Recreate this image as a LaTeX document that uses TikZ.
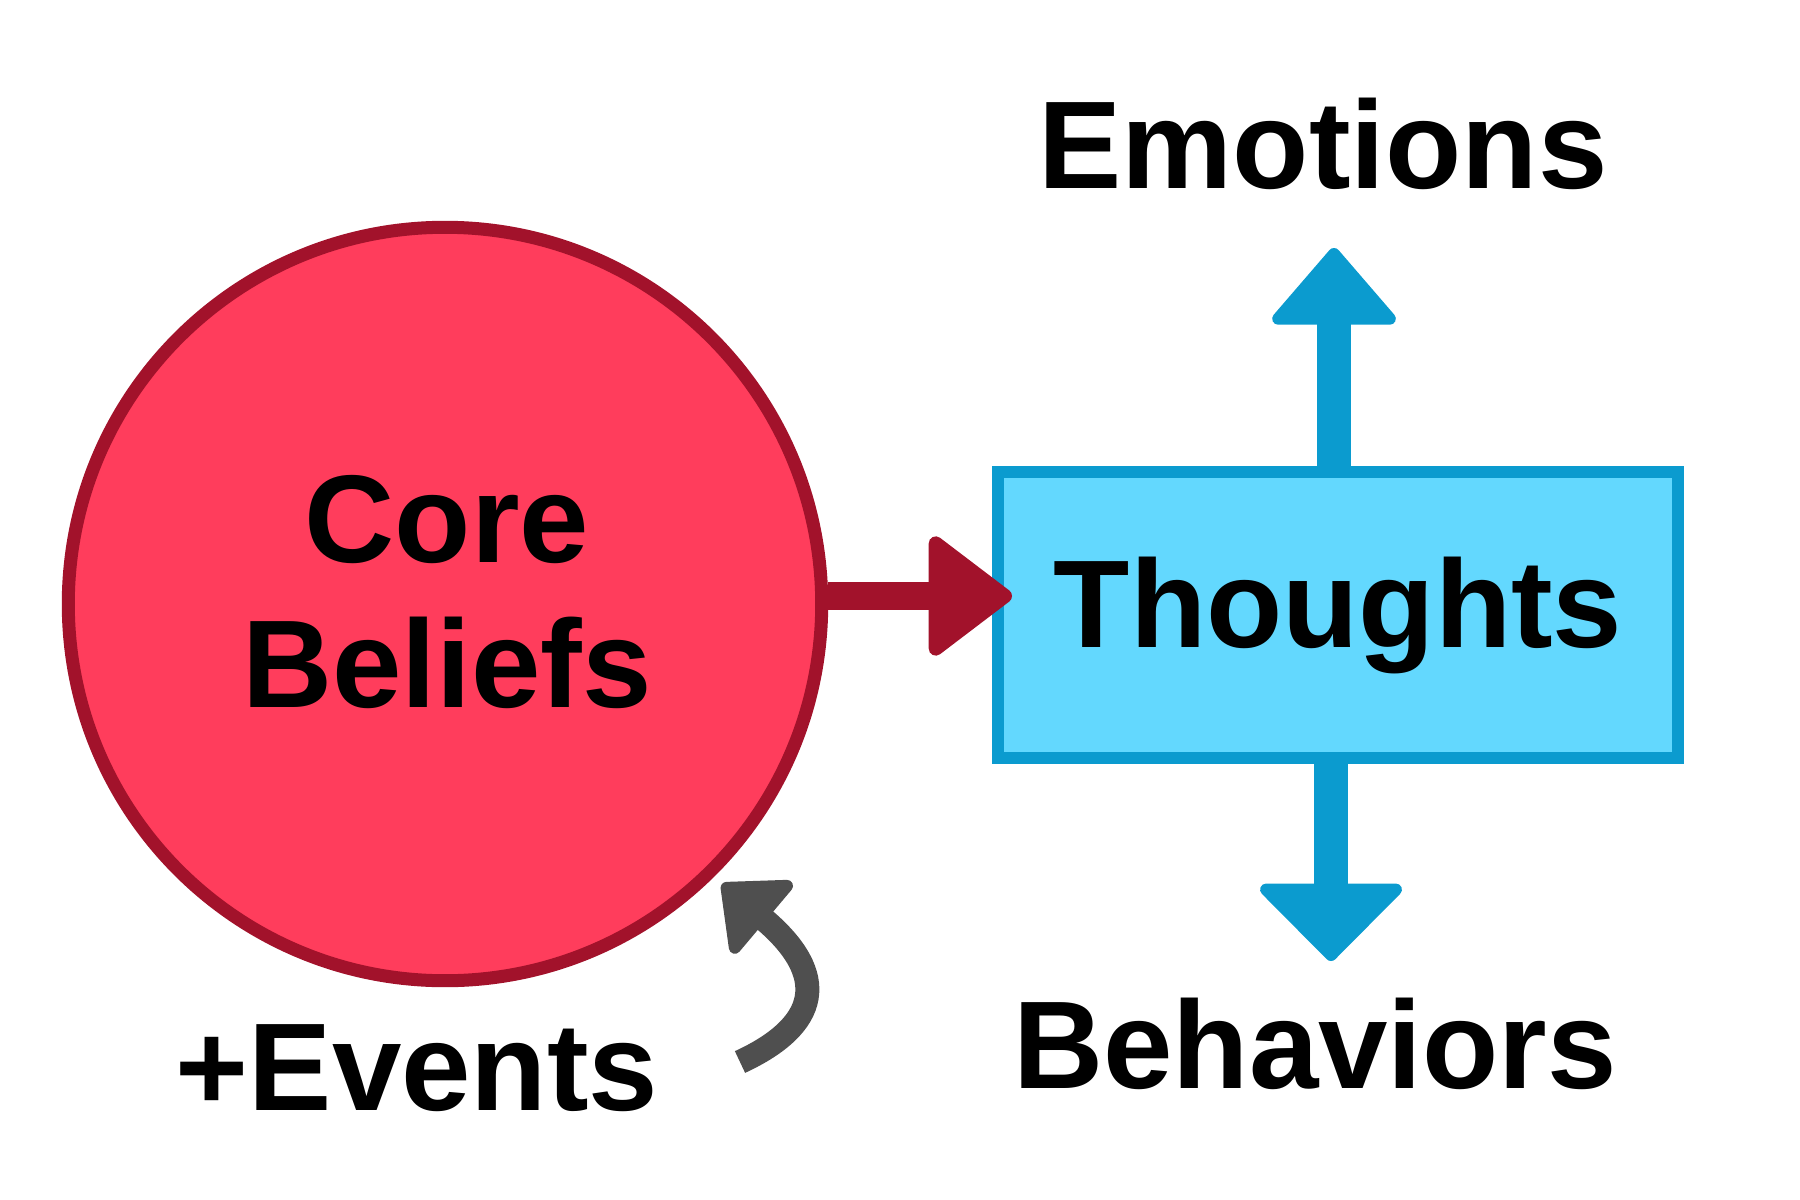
\documentclass[tikz,border=0pt]{standalone}
\usepackage{fontspec}
\setmainfont{Liberation Sans}
\usetikzlibrary{arrows.meta}
\definecolor{beliefred}{HTML}{FF3D5C}
\definecolor{beliefdark}{HTML}{A2122B}
\definecolor{thoughtblue}{HTML}{63D8FE}
\definecolor{thoughtdark}{HTML}{0B9BCF}
\definecolor{eventgrey}{HTML}{4F4F4F}
\begin{document}
\begin{tikzpicture}[x=0.01cm,y=-0.01cm,
        label/.style={font=\fontsize{35.5}{41}\selectfont\bfseries, inner sep=0pt, anchor=base},
        bluearrow/.style={thoughtdark, line width=0.34cm}]
    \useasboundingbox (0,0) rectangle (1800,1200);
    % the two boxes
    \node[circle, draw=beliefdark, fill=beliefred, line width=0.13cm, minimum size=7.53cm] (beliefs) at (445,604) {};
    \node[align=center, inner sep=0pt, font=\fontsize{35.5}{41}\selectfont\bfseries] (beliefstext) at (447,592) {Core\\Beliefs};
    \node[rectangle, draw=thoughtdark, fill=thoughtblue, line width=0.12cm, minimum width=6.79cm,
        minimum height=2.85cm, font=\fontsize{35.5}{41}\selectfont\bfseries] (thoughts) at (1338,615) {Thoughts};
    % labels
    \node[label] (emotions) at (1323,188) {Emotions};
    \node[label] (behaviors) at (1315,1088) {Behaviors};
    \node[label] (events) at (417,1110) {+Events};
    % arrows
    \coordinate (redtip) at (1012,596);
    \coordinate (uptip) at (1334,248);
    \coordinate (downtip) at (1331,961);
    \draw[beliefdark, line width=0.28cm,
        -{Triangle[length=0.88cm, width=1.3cm, line width=0.14cm, round]}] (beliefs.east |- redtip) -- (redtip);
    \draw[bluearrow, -{Triangle[length=0.8cm, width=1.35cm, line width=0.12cm, round]}] (thoughts.north -| uptip) -- (uptip);
    \draw[bluearrow, -{Triangle[length=0.8cm, width=1.56cm, line width=0.12cm, round]}] (thoughts.south -| downtip) -- (downtip);
    \draw[eventgrey, line width=0.24cm,
        -{Triangle[length=0.6cm, width=1.05cm, line width=0.12cm, round]}] (740,1062) .. controls (820,1025) and (830,975) .. (722,884);
\end{tikzpicture}
\end{document}
